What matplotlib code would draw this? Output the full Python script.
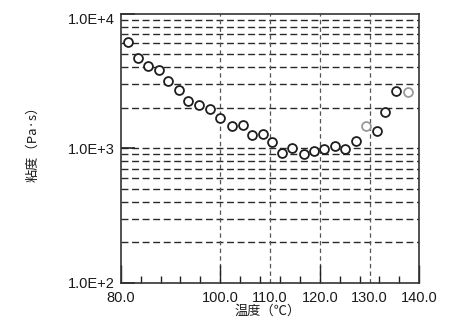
import matplotlib
matplotlib.use("Agg")
import matplotlib.pyplot as plt
from matplotlib.ticker import FixedLocator, NullFormatter

# ---- data ----
temp_black = [81.5, 83.5, 85.5, 87.6, 89.6, 91.7, 93.6, 95.7, 98.0, 100.0,
              102.3, 104.5, 106.4, 108.5, 110.4, 112.5, 114.5, 116.8, 118.8,
              120.8, 123.0, 125.0, 127.2, 131.4, 133.2, 135.4]
visc_black = [6120, 4670, 4050, 3780, 3130, 2720, 2240, 2110, 1970, 1690,
              1455, 1480, 1250, 1270, 1113, 929, 1005, 903, 955,
              983, 1035, 995, 1127, 1336, 1857, 2655]
temp_gray = [129.2, 137.7]
visc_gray = [1463, 2600]

xtick_vals = [80, 100, 110, 120, 130, 140]
xtick_labels = ["80.0", "100.0", "110.0", "120.0", "130.0", "140.0"]
xminor_vals = [84, 88, 92, 96, 104, 108, 112, 116, 124, 128, 132, 136]
xgrid_vals = [100, 110, 120, 130]
ytick_vals = [100, 1000, 10000]
ytick_labels = ["1.0E+2", "1.0E+3", "1.0E+4"]
ygrid_minor = [m * 10 ** e for e in (2, 3) for m in range(2, 10)]
xlabel = "温度（℃）"
ylabel = "粘度（Pa·s）"

plt.rcParams['font.family'] = ['Liberation Sans', 'DejaVu Sans']

fig = plt.figure(figsize=(4.74, 3.26), dpi=100)
ax = fig.add_axes([120.7 / 474, 43 / 326, 298.6 / 474, 269.5 / 326])

ax.set_yscale("log")
ax.set_xlim(80, 140)
ax.set_ylim(100, 10000)

# gridlines
for g in ygrid_minor + [1000]:
    ax.axhline(g, color="#2a2a2a", lw=1.0, ls=(0, (5, 2.6)), zorder=1)
for g in xgrid_vals:
    ax.axvline(g, color="#555555", lw=0.9, ls=(0, (3.5, 2.6)), zorder=1)

# data
ax.plot(temp_black, visc_black, ls="none", marker="o", ms=6.4, mew=1.3,
        mfc="white", mec="#1e1e1e", zorder=3)
ax.plot(temp_gray, visc_gray, ls="none", marker="o", ms=6.4, mew=1.3,
        mfc="white", mec="#9a9a9a", zorder=3)

# x ticks
ax.xaxis.set_major_locator(FixedLocator(xtick_vals))
ax.set_xticklabels(xtick_labels)
ax.xaxis.set_minor_locator(FixedLocator(xminor_vals))
ax.xaxis.set_minor_formatter(NullFormatter())
ax.tick_params(axis="x", which="major", direction="in", length=13, width=1.0,
               color="#222222", pad=6, labelsize=10.5, labelcolor="#1a1a1a")
ax.tick_params(axis="x", which="minor", direction="in", length=5, width=1.0,
               color="#222222")
for t, v in zip(ax.xaxis.get_major_ticks(), xtick_vals):
    if v in (110, 130):
        t.tick1line.set_markersize(0)

# y ticks
ax.yaxis.set_major_locator(FixedLocator(ytick_vals))
ax.set_yticklabels(ytick_labels)
ax.yaxis.set_minor_locator(FixedLocator([]))
ax.tick_params(axis="y", which="major", direction="in", length=10, width=1.2,
               color="#222222", pad=4, labelsize=10.5, labelcolor="#1a1a1a")
ax.get_yticklabels()[-1].set_verticalalignment("top")

for s in ax.spines.values():
    s.set_linewidth(1.2)
    s.set_color("#333333")

ax.set_xlabel(xlabel, fontsize=9.5, family=["Noto Sans CJK JP", "DejaVu Sans"],
              color="#1a1a1a", va="center")
ax.xaxis.set_label_coords(0.493, -0.106)
ax.set_ylabel(ylabel, fontsize=9.5, family=["Noto Sans CJK JP", "DejaVu Sans"],
              color="#1a1a1a", va="center", ha="center")
ax.yaxis.set_label_coords(-0.294, 0.527)

fig.savefig("out.png", dpi=100)
